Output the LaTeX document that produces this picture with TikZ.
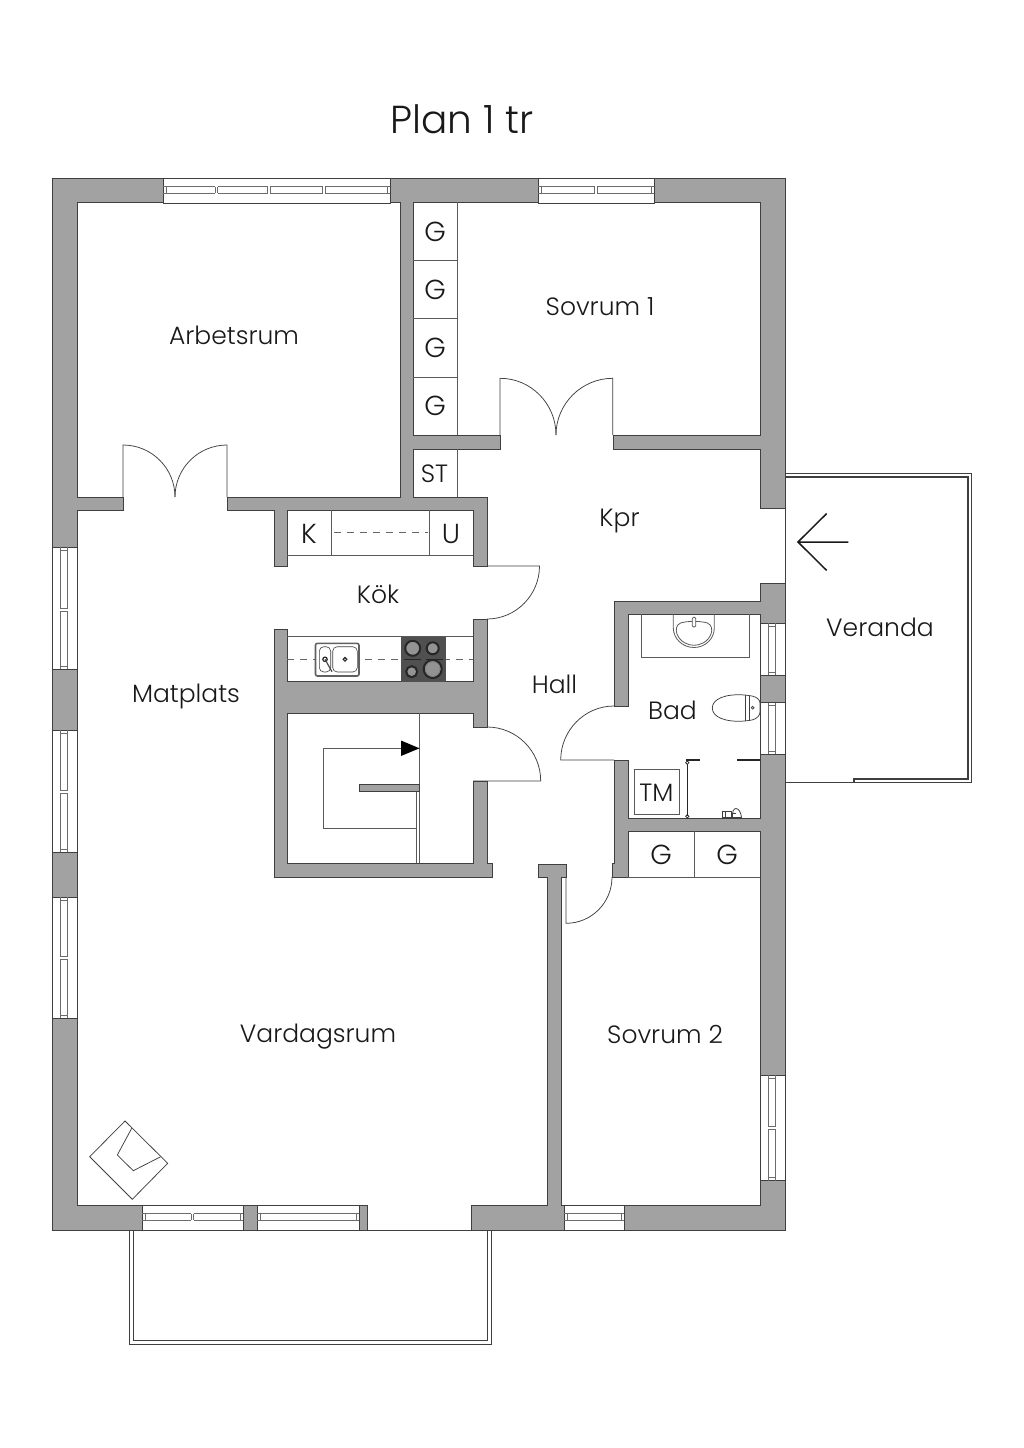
\documentclass[tikz,border=0pt]{standalone}
\usepackage{fontspec}
\setmainfont{Poppins Light}
\definecolor{wallgray}{HTML}{A2A2A2}
\definecolor{edgeink}{HTML}{3F3F3F}
\definecolor{thinink}{HTML}{5A5A5A}
\definecolor{hobdark}{HTML}{505050}
\tikzset{
  wall/.style={fill=wallgray,draw=edgeink,line width=0.9pt,line join=miter},
  thin ink/.style={draw=thinink,line width=0.8pt},
  door/.style={draw=edgeink,line width=0.75pt},
  glass/.style={draw=gray!85!black,line width=0.8pt},
  dash ink/.style={draw=gray!80!black,line width=0.8pt,dash pattern=on 7pt off 6pt},
  label/.style={inner sep=0pt,text=black!90,font=\fontsize{25}{30}\selectfont,anchor=center},
  letter/.style={inner sep=0pt,text=black!90,font=\fontsize{27.5}{30}\selectfont,anchor=center},
  fix/.style={draw=black!85,line width=1.1pt},
}
\newcommand{\hwin}[4]{%
  \fill[white] (#1,#3) rectangle (#2,#3+25);
  \draw[edgeink,line width=0.9pt] (#1,#3) rectangle (#2,#3+25);
  \draw[glass] (#1+3,#3+8.5) rectangle (#2-3,#3+15);
  \draw[glass] (#1,#3+8.5) -- (#1+3,#3+8.5) (#1,#3+15) -- (#1+3,#3+15) (#2,#3+8.5) -- (#2-3,#3+8.5) (#2,#3+15) -- (#2-3,#3+15);
  \foreach \m in {#4}{\fill[white] (\m,#3+8) rectangle (\m+2.5,#3+15.5);
    \draw[glass] (\m,#3+8.5) -- (\m,#3+15) (\m+2.5,#3+8.5) -- (\m+2.5,#3+15);}
}
\newcommand{\vwin}[4]{%
  \fill[white] (#3,#1) rectangle (#3+25,#2);
  \draw[edgeink,line width=0.9pt] (#3,#1) rectangle (#3+25,#2);
  \draw[glass] (#3+8.5,#1+3) rectangle (#3+15,#2-3);
  \draw[glass] (#3+8.5,#1) -- (#3+8.5,#1+3) (#3+15,#1) -- (#3+15,#1+3) (#3+8.5,#2) -- (#3+8.5,#2-3) (#3+15,#2) -- (#3+15,#2-3);
  \foreach \m in {#4}{\fill[white] (#3+8,\m) rectangle (#3+15.5,\m+2.5);
    \draw[glass] (#3+8.5,\m) -- (#3+15,\m) (#3+8.5,\m+2.5) -- (#3+15,\m+2.5);}
}
\begin{document}
\begin{tikzpicture}[x=1pt,y=-1pt]
\useasboundingbox (0,0) rectangle (1024,1448);
\fill[white] (0,0) rectangle (1024,1448);

% veranda and balcony
\draw[edgeink,line width=0.8pt] (785,473.3) -- (971.7,473.3) -- (971.7,782.7) -- (785,782.7);
\draw[edgeink,line width=1.1pt] (785,477) -- (968,477) -- (968,779) -- (854,779) -- (854,782.7);
\draw[edgeink,line width=0.8pt] (129.3,1230) -- (129.3,1344) -- (491.3,1344) -- (491.3,1230);
\draw[edgeink,line width=1.1pt] (133.3,1230) -- (133.3,1340.5) -- (487.3,1340.5) -- (487.3,1230);

% walls: outer block, floor traced through every door opening
\draw[wall] (52,178) rectangle (785,1230);
\draw[fill=white,draw=edgeink,line width=0.9pt]
  (77,202) -- (400,202) -- (400,497) -- (227,497) -- (227,510) -- (274,510) -- (274,566)
  -- (287,566) -- (287,510) -- (473,510) -- (473,566) -- (487,566) -- (487,497) -- (413,497)
  -- (413,449) -- (500,449) -- (500,435) -- (413,435) -- (413,202) -- (760,202) -- (760,435)
  -- (613,435) -- (613,449) -- (760,449) -- (760,508) -- (785,508) -- (785,583) -- (760,583)
  -- (760,601) -- (614,601) -- (614,706) -- (628,706) -- (628,614) -- (760,614) -- (760,818)
  -- (628,818) -- (628,760) -- (614,760) -- (614,863) -- (612,863) -- (612,877) -- (628,877)
  -- (628,831) -- (760,831) -- (760,1205) -- (561,1205) -- (561,877) -- (566,877) -- (566,864)
  -- (538.3,864) -- (538.3,877) -- (547,877) -- (547,1205) -- (471,1205) -- (471,1230)
  -- (367,1230) -- (367,1205) -- (77,1205) -- (77,510) -- (123,510) -- (123,497) -- (77,497) -- cycle;
% free-standing block of kitchen and stair
\draw[wall] (274,629) -- (287,629) -- (287,681) -- (473,681) -- (473,619) -- (487,619) -- (487,727)
  -- (473,727) -- (473,713) -- (287,713) -- (287,863) -- (473,863) -- (473,781) -- (487,781)
  -- (487,863) -- (492.7,863) -- (492.7,877) -- (274,877) -- cycle;

% windows
\hwin{163}{390}{178}{215,267.5,322.5}
\hwin{538}{654.3}{178}{594.5}
\hwin{142.3}{243.3}{1205}{191}
\hwin{257.3}{359}{1205}{}
\hwin{564}{624.3}{1205}{}
\vwin{547.3}{669.3}{52}{608.5}
\vwin{730}{852}{52}{790.5}
\vwin{897}{1018}{52}{956.5}
\vwin{1075}{1180.5}{760}{1126.5}
\vwin{623.3}{675}{760}{}
\vwin{702.7}{754.3}{760}{}

% doors
\draw[door] (123,497) -- (123,445) .. controls (151.7,445) and (175,468.3) .. (175,497);
\draw[door] (227,497) -- (227,445) .. controls (198.3,445) and (175,468.3) .. (175,497);
\draw[door] (500,435) -- (500,378.3) .. controls (531,378.3) and (556,403.7) .. (556,435);
\draw[door] (612.7,435) -- (612.7,378.3) .. controls (581.7,378.3) and (556,403.7) .. (556,435);
\draw[door] (487,566) -- (539.5,566) .. controls (539.5,595) and (516,619) .. (487,619);
\draw[door] (473,781) -- (540.7,781) .. controls (540.7,751) and (516.5,727) .. (487,727);
\draw[door] (614,760) -- (560.7,760) .. controls (560.7,730.5) and (584.5,706) .. (614,706);
\draw[door] (566,877) -- (566,923.3) .. controls (591.5,923.3) and (612,902.7) .. (612,877);

% wardrobes
\draw[thin ink] (457.3,202) -- (457.3,435) (413,260) -- (457.3,260) (413,318) -- (457.3,318) (413,377) -- (457.3,377);
\draw[thin ink] (457.3,449) -- (457.3,497);
\draw[thin ink] (287,555) -- (473,555) (331.7,510) -- (331.7,555) (429,510) -- (429,555);
\draw[dash ink] (334,532.5) -- (428,532.5);
\draw[thin ink] (694,831) -- (694,877) (628,877) -- (760,877);

% kitchen counter
\draw[thin ink] (287,636.5) -- (473,636.5);
\draw[dash ink] (287,659) -- (473,659);
\draw[fill=white,draw=gray!75!black,line width=1.6pt,rounded corners=2pt] (315.5,643.3) rectangle (359,676);
\draw[fill=white,draw=edgeink,line width=0.6pt,rounded corners=4.5pt] (319.3,646.7) rectangle (330.7,672);
\draw[fill=white,draw=edgeink,line width=0.6pt,rounded corners=4.5pt] (332.7,646.7) rectangle (357.3,672);
\draw[line width=1.2pt,black!85] (325,659.3) circle[radius=2.2pt] (345,659.3) circle[radius=1.8pt];
\draw[line width=1.2pt,black!70] (325,659.3) -- (332,671.7);
\fill[hobdark] (401,636.7) rectangle (446,681.5);
\foreach \px/\py/\pr in {412.7/648.3/7.5,432.7/648.3/6,411.7/671.7/5.5,432.7/669/9}{
  \draw[fill=gray!85,draw=black!85,line width=2pt] (\px,\py) circle[radius=\pr pt];}
\draw[gray,line width=0.6pt] (432.7,669) circle[radius=7.2pt];
\draw[black!85,line width=0.7pt] (404,659) -- (421,659) (426,659) -- (443,659);

% stair
\draw[thin ink] (419.5,713) -- (419.5,863) (416,791.7) -- (416,863);
\draw[thin ink] (416,828) -- (323,828) -- (323,748.3) -- (419.5,748.3);
\fill[black] (419.5,748.3) -- (401,740.5) -- (401,756) -- cycle;
\draw[fill=wallgray,draw=edgeink,line width=0.7pt] (359.3,784.5) rectangle (419.5,791.7);

% bath
\draw[thin ink] (641,614) -- (641,657.7) -- (749.3,657.7) -- (749.3,614);
\draw[thin ink] (673.3,614) -- (673.3,628) .. controls (673.3,639) and (683,647.5) .. (694,647.5) .. controls (705,647.5) and (714.3,639) .. (714.3,628) -- (714.3,614);
\draw[thin ink] (680.5,623) .. controls (676,625) and (675.5,630) .. (677,634) .. controls (680,642) and (688,645.3) .. (694,645.3) .. controls (700,645.3) and (708,642) .. (711,634) .. controls (712.5,630) and (712,625) .. (707.5,623) .. controls (700,620.8) and (688,620.8) .. (680.5,623);
\draw[fill=white,thin ink,rounded corners=1.2pt] (692.3,617.3) rectangle (695.7,627);
\draw[door] (745,695) .. controls (725,693.5) and (712.3,699) .. (712.3,708) .. controls (712.3,717) and (725,722.5) .. (745,721) -- (752,720) .. controls (757,719) and (760,715) .. (760,712) -- (760,703) .. controls (760,700) and (757,697) .. (752,696) -- cycle;
\draw[door] (745,695) -- (745,721) (749.3,695.5) -- (749.3,720.5);
\draw[door] (752.7,707.7) circle[radius=1.4pt];
\draw[thin ink] (634.3,769.3) rectangle (679.3,814.3);
\draw[fix] (687.3,764) -- (687.3,815.5) (685.8,760) -- (699.3,760) (699.3,758.8) -- (699.3,761.2);
\draw[fix] (737.3,760) -- (760,760) (737.3,758.8) -- (737.3,761.2);
\draw[fix,line width=0.7pt] (687.3,762.7) circle[radius=1.7pt] (687.3,816.3) circle[radius=1.7pt];
\draw[edgeink,line width=0.7pt] (722,811.5) rectangle (731,817.5) (725,811) -- (725,817.5);
\draw[edgeink,line width=0.8pt] (732.5,817.5) .. controls (732,812) and (733.5,808.5) .. (736,808.5) .. controls (739,808.5) and (741,813) .. (741.5,817.5) -- cycle;
\draw[edgeink,line width=0.8pt] (731,813) -- (736,813);

% armchair
\draw[door] (125,1121) -- (167.7,1163.3) -- (132.3,1199.3) -- (89.7,1156.7) -- cycle;
\draw[door] (131.7,1128.3) -- (117.3,1155) -- (133.3,1170.7) -- (160.7,1156.7);

% arrow at the veranda
\draw[black!90,line width=1.5pt] (848.3,542) -- (798,542) (826.7,513.5) -- (798,542) -- (826.7,570.5);

% labels
\node[label,font=\fontsize{39}{46}\selectfont] (title) at (462,119) {Plan 1 tr};
\node[label] (arbetsrum) at (234,335.5) {Arbetsrum};
\node[label] (sovrum1) at (600,306.5) {Sovrum 1};
\node[label] (kpr) at (619.5,520.5) {Kpr};
\node[letter] (k) at (309,533.5) {K};
\node[letter] (u) at (451,533.5) {U};
\node[letter] (g1) at (435,231.5) {G};
\node[letter] (g2) at (435,289.5) {G};
\node[letter] (g3) at (435,348) {G};
\node[letter] (g4) at (435,406) {G};
\node[label] (st) at (434.5,473.5) {ST};
\node[label] (kok) at (378,594.5) {Kök};
\node[label] (matplats) at (186,696.5) {Matplats};
\node[label] (hall) at (554.5,684.5) {Hall};
\node[label] (bad) at (672.5,710.5) {Bad};
\node[label] (veranda) at (880,627) {Veranda};
\node[label] (tm) at (656.5,792.5) {TM};
\node[letter] (g5) at (661,854.5) {G};
\node[letter] (g6) at (727,854.5) {G};
\node[label] (vardagsrum) at (318,1036.5) {Vardagsrum};
\node[label] (sovrum2) at (665,1034) {Sovrum 2};
\end{tikzpicture}
\end{document}
